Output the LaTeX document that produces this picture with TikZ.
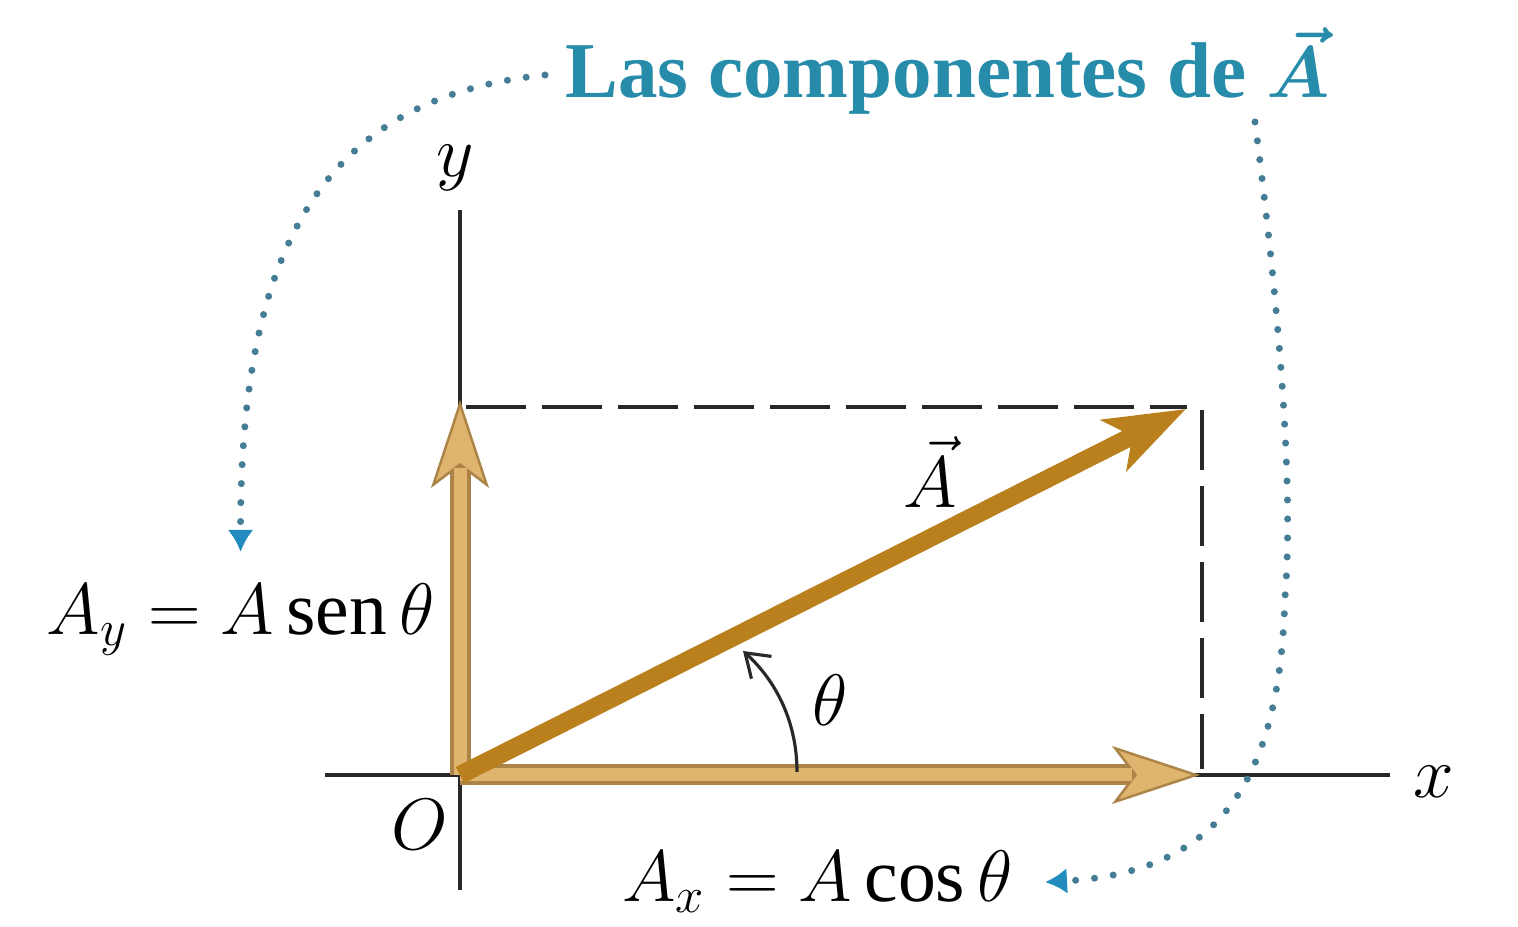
\documentclass[tikz,border=0pt]{standalone}
\usepackage{amsmath,bm}
\usepackage{fontspec}
\setmainfont{Liberation Serif}
\usetikzlibrary{arrows.meta,calc}

\definecolor{ejecol}{RGB}{40,40,40}
\definecolor{vecA}{RGB}{186,128,30}
\definecolor{compclaro}{RGB}{222,180,110}
\definecolor{composcuro}{RGB}{172,132,72}
\definecolor{puntocol}{RGB}{70,125,150}
\definecolor{flechacol}{RGB}{35,140,190}
\definecolor{titcol}{RGB}{38,140,170}

\begin{document}
\begin{tikzpicture}[>=Stealth,
  eje/.style={line width=0.9pt,ejecol},
  guia/.style={line width=0.9pt,ejecol,dash pattern=on 0.6cm off 0.16cm},
  punteado/.style={line width=2pt,puntocol,line cap=round,dash pattern=on 0pt off 5.4pt,
    -{Latex[length=0.22cm,width=0.26cm,color=flechacol]}},
  componente/.style={line width=0.21cm,composcuro,
    -{Stealth[length=0.88cm,width=0.58cm,inset=0.22cm,line width=0.7pt,fill=compclaro]}},
  rotulo/.style={font=\fontsize{21.5}{26}\selectfont},
  titulo/.style={font=\fontsize{22.5}{27}\selectfont\bfseries\boldmath,text=titcol}]
  \useasboundingbox (0,0) rectangle (15.18,9.27);

  % Puntos
  \coordinate (O) at (4.60,1.52);
  \coordinate (xini) at (3.25,1.52);
  \coordinate (xfin) at (13.90,1.52);
  \coordinate (yini) at (4.60,0.37);
  \coordinate (yfin) at (4.60,7.17);
  \coordinate (Ay) at (4.60,5.27);
  \coordinate (Ax) at (12.00,1.52);
  \coordinate (A) at (11.86,5.18);

  % Ejes
  \draw[eje] (xini) -- (xfin);
  \draw[eje] (yini) -- (yfin);
  \node[rotulo] (ex) at (14.34,1.45) {$x$};
  \node[rotulo] (ey) at (4.55,7.59) {$y$};
  \node[rotulo] (eO) at (4.20,1.02) {$O$};

  % Lineas de guia
  \coordinate (g1) at (4.66,5.20);
  \coordinate (g2) at (11.87,5.20);
  \coordinate (g3) at (12.02,5.17);
  \coordinate (g4) at (12.02,1.58);
  \draw[guia] (g1) -- (g2);
  \draw[guia] (g3) -- (g4);

  % Componentes
  \draw[componente] (O) -- (Ay);
  \draw[componente] (O) -- (Ax);
  \draw[compclaro,line width=0.13cm,shorten >=0.68cm] (O) -- (Ay);
  \draw[compclaro,line width=0.13cm,shorten >=0.68cm] (O) -- (Ax);

  % Vector A
  \draw[vecA,line width=0.18cm,-{Stealth[length=0.8cm,width=0.56cm,inset=0.2cm]}] (O) -- (A);
  \node[rotulo] (lblA) at (9.30,4.55) {$\vec{A}$};

  % Angulo
  \coordinate (t1) at (7.97,1.55);
  \coordinate (t2) at (7.43,2.76);
  \draw[eje,-{Straight Barb[length=0.22cm,width=0.3cm]}] (t1) .. controls (7.97,2.10) and (7.72,2.50) .. (t2);
  \node[rotulo] (th) at (8.30,2.27) {$\theta$};

  % Componentes escritas
  \node[rotulo,anchor=base east] (lblAy) at (4.47,2.92) {$A_y = A\operatorname{sen}\theta$};
  \node[rotulo,anchor=base west] (lblAx) at (6.10,0.25) {$A_x = A\cos\theta$};

  % Titulo y flechas punteadas
  \node[titulo,anchor=base west] (tit) at (5.53,8.29) {Las componentes de $\vec{A}$};
  \coordinate (d1) at (5.45,8.52);
  \coordinate (d2) at (12.55,8.05);
  \draw[punteado] (d1) .. controls (3.30,8.30) and (2.40,6.90) .. ([yshift=0.2cm]lblAy.north);
  \draw[punteado] (d2) .. controls (12.75,6.50) and (12.95,4.50) .. (12.85,3.30)
    .. controls (12.80,1.60) and (12.30,0.55) .. ([xshift=0.2cm]lblAx.east);
\end{tikzpicture}
\end{document}
